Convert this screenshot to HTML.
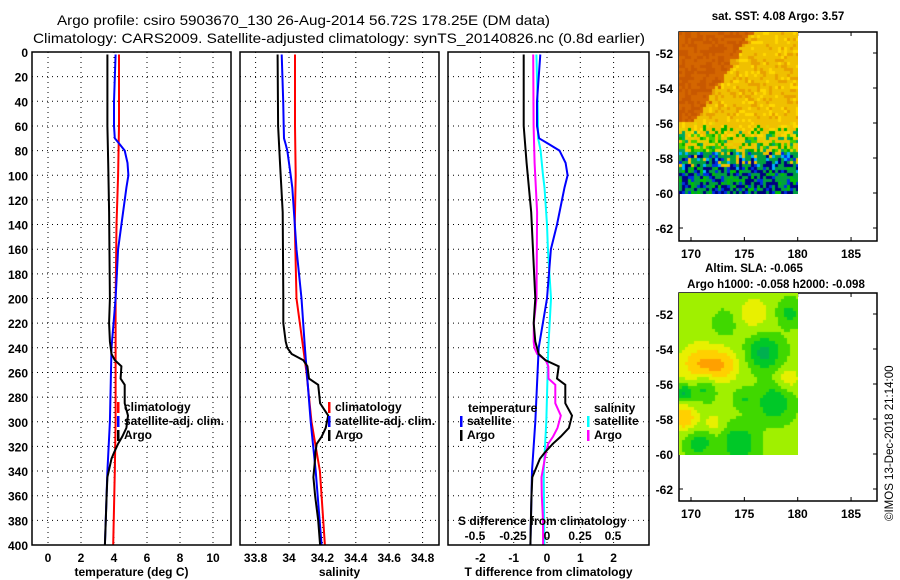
<!DOCTYPE html>
<html><head><meta charset="utf-8"><style>
html,body{margin:0;padding:0;background:#fff;}
svg{display:block;font-family:"Liberation Sans",sans-serif;}
canvas{position:absolute;}
#wrap{position:relative;width:900px;height:580px;overflow:hidden;}
</style></head><body>
<div id="wrap">
<svg id="svg" width="900" height="580"></svg>
<canvas id="map1" width="119" height="162" style="left:679px;top:32px"></canvas>
<canvas id="map2" width="119" height="162" style="left:679px;top:293px"></canvas>
</div>
<script>
// ---- data (depth in m) ----
const tickDepths=[0,20,40,60,80,100,120,140,160,180,200,220,240,260,280,300,320,340,360,380,400];
const tempTicks=[0,2,4,6,8,10];
const salTicks=[33.8,34,34.2,34.4,34.6,34.8];
const tdiffTicks=[-2,-1,0,1,2];
const sdiffTicks=[-0.5,-0.25,0,0.25,0.5];
const climDepth=[2,60,100,140,200,260,300,340,400];
const climTemp=[4.3,4.3,4.25,4.15,4.1,4.1,4.1,4.05,3.95];
const climSal=[34.036,34.036,34.04,34.035,34.045,34.105,34.135,34.185,34.215];
const satDepth=[2,40,60,70,75,80,90,100,110,140,160,200,240,300,340,400];
const satTemp=[4.1,4.0,4.0,4.05,4.35,4.65,4.82,4.87,4.75,4.45,4.25,4.1,3.85,3.75,3.6,3.45];
const satSal=[33.956,33.965,33.968,33.97,33.98,33.99,34.0,34.01,34.02,34.035,34.045,34.075,34.095,34.13,34.16,34.195];
const argoDepth=[2,60,90,130,200,220,235,240,245,250,255,265,270,285,295,305,312,318,325,330,345,360,380,400];
const argoTemp=[3.6,3.6,3.65,3.7,3.75,3.7,3.75,3.8,3.85,4.05,4.45,4.4,4.65,4.65,4.85,4.75,4.5,4.25,4.0,3.85,3.6,3.55,3.5,3.45];
const argoSal=[33.932,33.935,33.946,33.962,33.966,33.966,33.98,33.99,34.016,34.085,34.11,34.12,34.175,34.186,34.235,34.22,34.196,34.166,34.158,34.156,34.146,34.156,34.175,34.186];

const NS='http://www.w3.org/2000/svg';
const svg=document.getElementById('svg');
function mk(tag,attrs,parent){const e=document.createElementNS(NS,tag);for(const k in attrs)e.setAttribute(k,attrs[k]);(parent||svg).appendChild(e);return e;}
function txt(s,x,y,attrs){const e=mk('text',Object.assign({x:x,y:y,'font-size':12,'font-weight':'bold',fill:'#000'},attrs||{}));e.textContent=s;return e;}

const TOP=52,BOT=545;
const yD=d=>TOP+d*(BOT-TOP)/400;
const xT=v=>48+v*16.5;
const xS=v=>289+(v-34)*167;
const xTd=v=>547+v*33.3;
const xSd=v=>547+v*133;
function interp(ds,vs,d){if(d<=ds[0])return vs[0];for(let i=1;i<ds.length;i++){if(d<=ds[i]){const t=(d-ds[i-1])/(ds[i]-ds[i-1]);return vs[i-1]+t*(vs[i]-vs[i-1]);}}return vs[vs.length-1];}

let t1=txt('Argo profile: csiro 5903670_130 26-Aug-2014 56.72S 178.25E (DM data)',57,25,{'font-size':14,'font-weight':'normal',textLength:493,lengthAdjust:'spacingAndGlyphs'});

let t2=txt('Climatology: CARS2009. Satellite-adjusted climatology: synTS_20140826.nc (0.8d earlier)',33,43,{'font-size':14,'font-weight':'normal',textLength:612,lengthAdjust:'spacingAndGlyphs'});


function panel(name,x0,x1,xticks,xf,labelFmt,xtitle,grid){
  const g=mk('g',{});
  
  
  tickDepths.forEach(d=>{if(d>0&&d<400)mk('line',{x1:x0,x2:x1,y1:yD(d),y2:yD(d),stroke:'#000','stroke-width':1,'stroke-dasharray':'1,4'},g);});
  (grid||xticks).forEach(v=>{mk('line',{x1:xf(v),x2:xf(v),y1:TOP,y2:BOT,stroke:'#000','stroke-width':1,'stroke-dasharray':'1,4'},g);});
  if(xticks){xticks.forEach(v=>{const l=txt(labelFmt(v),xf(v),562,{'text-anchor':'middle'},g);g.appendChild(l);});}
  const tt=txt(xtitle,(x0+x1)/2,576,{'text-anchor':'middle'});g.appendChild(tt);
  return g;
}
function frame(g,x0,x1){mk('rect',{x:x0,y:TOP,width:x1-x0,height:BOT-TOP,fill:'none',stroke:'#000','stroke-width':1.5},g);}
function line(g,ds,vs,xf,color,name,w){
  let p='';ds.forEach((d,i)=>{p+=(i?'L':'M')+xf(vs[i]).toFixed(1)+','+yD(d).toFixed(1);});
  const e=mk('path',{d:p,fill:'none',stroke:color,'stroke-width':w||2},g);
  
  
}
tickDepths.forEach(d=>{txt(String(d),28,yD(d)+5,{'text-anchor':'end'});});

const p1=panel('temperature-panel',32,231,tempTicks,xT,v=>String(v),'temperature (deg C)');
line(p1,climDepth,climTemp,xT,'#f00','temp-climatology-line');
line(p1,satDepth,satTemp,xT,'#00f','temp-satellite-line');
line(p1,argoDepth,argoTemp,xT,'#000','temp-argo-line');
frame(p1,32,231);
const p2=panel('salinity-panel',240,439,salTicks,xS,v=>String(v),'salinity');
line(p2,climDepth,climSal,xS,'#f00','sal-climatology-line');
line(p2,satDepth,satSal,xS,'#00f','sal-satellite-line');
line(p2,argoDepth,argoSal,xS,'#000','sal-argo-line');
frame(p2,240,439);
const p3=panel('difference-panel',448,649,tdiffTicks,xTd,v=>String(v),'T difference from climatology');
const diff=(ds,vs,cv)=>ds.map((d,i)=>vs[i]-interp(climDepth,cv,d));
line(p3,satDepth,diff(satDepth,satSal,climSal),xSd,'#0ff','sdiff-satellite-line');
line(p3,argoDepth,diff(argoDepth,argoSal,climSal),xSd,'#f0f','sdiff-argo-line');
line(p3,satDepth,diff(satDepth,satTemp,climTemp),xTd,'#00f','tdiff-satellite-line');
line(p3,argoDepth,diff(argoDepth,argoTemp,climTemp),xTd,'#000','tdiff-argo-line');
frame(p3,448,649);
txt('S difference from climatology',458,525,{'font-size':12});
sdiffTicks.forEach(v=>{const lx={'-0.5':475,'-0.25':513,'0':547,'0.25':580,'0.5':613}[String(v)];txt(String(v),lx,540,{'text-anchor':'middle'});});

function leg(x,y,color,label,name){const g=mk('g',{});
  mk('rect',{x:x,y:y-9,width:2.5,height:11,fill:color},g);const t=txt(label,x+7,y);g.appendChild(t);}
leg(117,411,'#f00','climatology','legend-climatology');
leg(117,425,'#00f','satellite-adj. clim.','legend-satellite-adj');
leg(117,439,'#000','Argo','legend-argo');
leg(328,411,'#f00','climatology','legend-sal-climatology');
leg(328,425,'#00f','satellite-adj. clim.','legend-sal-satellite-adj');
leg(328,439,'#000','Argo','legend-sal-argo');
txt('temperature',468,412);
leg(460,425,'#00f','satellite','legend-t-satellite');
leg(460,439,'#000','Argo','legend-t-argo');
txt('salinity',594,412);
leg(587,425,'#0ff','satellite','legend-s-satellite');
leg(587,439,'#f0f','Argo','legend-s-argo');

const mapLat=[-52,-54,-56,-58,-60,-62];
const mapLon=[170,175,180,185];
function mapAxes(top,bottom,name){
  const g=mk('g',{});
  const yL=l=>top+21+(-52-l)*17.5;const xL=o=>691+(o-170)*10.67;
  mk('rect',{x:679,y:top,width:198,height:bottom-top,fill:'none',stroke:'#000','stroke-width':1.5},g);
  mapLat.forEach(l=>{const y=yL(l);mk('line',{x1:679,x2:683,y1:y,y2:y,stroke:'#000'},g);mk('line',{x1:873,x2:877,y1:y,y2:y,stroke:'#000'},g);g.appendChild(txt(String(l),673,y+5,{'text-anchor':'end'}));});
  mapLon.forEach(o=>{const x=xL(o);mk('line',{x1:x,x2:x,y1:top,y2:top+4,stroke:'#000'},g);mk('line',{x1:x,x2:x,y1:bottom-4,y2:bottom,stroke:'#000'},g);g.appendChild(txt(String(o),x,bottom+17,{'text-anchor':'middle'}));});
  return g;
}
mapAxes(32,241,'sst-map-axes');
mapAxes(293,501,'sla-map-axes');
txt('sat. SST: 4.08 Argo: 3.57',778,20,{'text-anchor':'middle','font-size':11.5});
txt('Altim. SLA: -0.065',754,272,{'text-anchor':'middle','font-size':11.5});
txt('Argo h1000: -0.058 h2000: -0.098',776,288,{'text-anchor':'middle','font-size':11.5});
const cr=txt('\u00A9IMOS 13-Dec-2018 21:14:00',0,0,{'font-size':11.5,'font-weight':'normal',transform:'translate(893,521) rotate(-90)'});

[136,398].forEach(y=>{const c=mk('circle',{cx:778,cy:y,r:5,fill:'none',stroke:'#000'});});

// map imagery (texture)
let seed=7;function rnd(){seed=(seed*16807)%2147483647;return seed/2147483647;}
const c1=document.getElementById('map1').getContext('2d');
for(let j=0;j<54;j++)for(let i=0;i<40;i++){
  const x=i*3,y=j*3;let col;const r=rnd();
  const bound=70-y*0.62;
  if(y<90 && x<bound+(r-0.5)*8) col=r<0.5?'#c85800':'#d46600';
  else if(y<95+(r-0.5)*20) col=r<0.2?'#e8a000':(r<0.85?'#f0c000':'#ffd800');
  else if(y<118){col=['#f0c000','#e8d000','#00b000','#00a860','#40d000','#f0c000'][Math.floor(r*6)];}
  else {const rr=rnd();const deep=Math.min(1,(y-110)/40);
    if(rr<0.3*deep+0.05)col='#000080';else if(rr<0.35*deep+0.15)col='#0030e0';else if(rr<0.45)col='#00b0ff';else if(rr<0.85)col='#00a040';else col=y<135?'#f0c000':'#00c000';}
  c1.fillStyle=col;c1.fillRect(x,y,3,3);
}
const c2=document.getElementById('map2').getContext('2d');
const blobs=[[20,72,0.55,22],[45,72,0.45,18],[5,125,0.6,14],[35,130,0.3,10],[75,20,0.35,18],[110,85,0.35,12],[15,15,0.2,18],[85,60,-0.7,16],[5,100,-0.7,8],[25,95,-0.5,12],[95,110,-0.6,16],[60,150,-0.6,16],[20,150,-0.5,12],[65,105,-0.3,10],[110,20,-0.4,12],[45,30,-0.3,12]];
const cmap=v=>v<-0.5?'#00b050':v<-0.2?'#00c828':v<0.05?'#40d800':v<0.3?'#a0f000':v<0.5?'#e8f000':v<0.7?'#ffd000':'#ffa000';
for(let j=0;j<54;j++)for(let i=0;i<40;i++){
  const x=i*3+1.5,y=j*3+1.5;let v=0.1;
  blobs.forEach(b=>{const d2=((x-b[0])**2+(y-b[1])**2)/(b[3]*b[3]);v+=b[2]*Math.exp(-d2);});
  c2.fillStyle=cmap(v);c2.fillRect(i*3,j*3,3,3);
}
</script>
</body></html>
